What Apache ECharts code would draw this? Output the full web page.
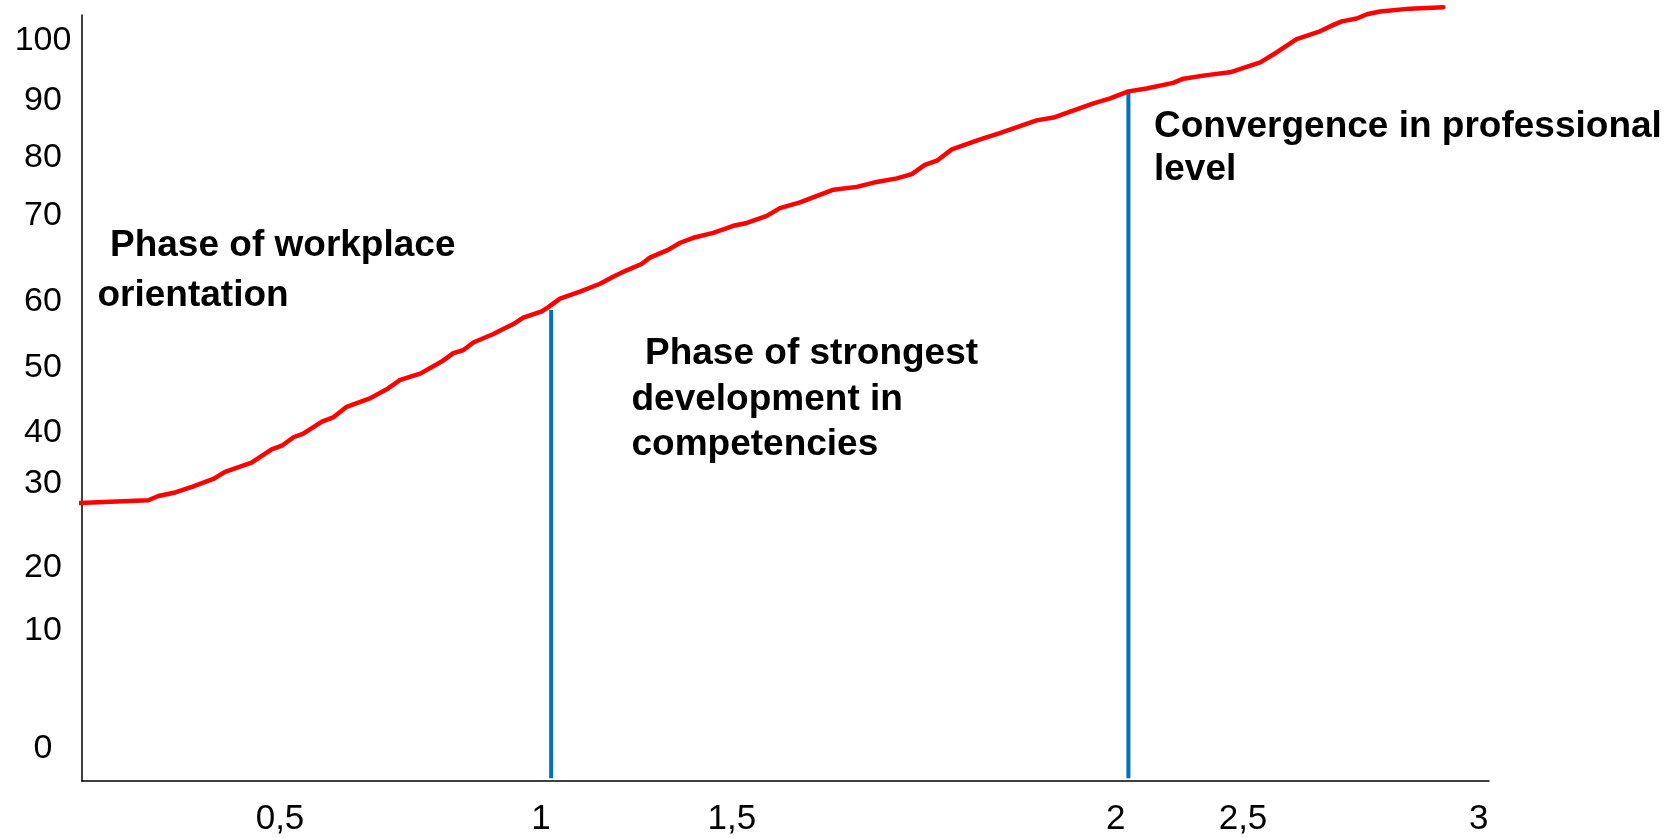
<!DOCTYPE html>
<html>
<head>
<meta charset="utf-8">
<script src="https://cdn.jsdelivr.net/npm/echarts@6/dist/echarts.min.js"></script>
<style>
html,body{margin:0;padding:0;background:#fff;}
#chart{width:1677px;height:838px;}
</style>
</head>
<body>
<div id="chart"></div>
<script>
// Curve (x in drawn-axis units, y in drawn-axis units)
const curveX = [-0.005, 0.142, 0.164, 0.200, 0.236, 0.282, 0.307, 0.364, 0.407, 0.429, 0.454, 0.475, 0.515, 0.539, 0.568, 0.618, 0.657, 0.683, 0.726, 0.772, 0.797, 0.818, 0.840, 0.883, 0.904, 0.926, 0.947, 0.987, 1.001, 1.026, 1.069, 1.112, 1.140, 1.169, 1.201, 1.219, 1.258, 1.284, 1.312, 1.355, 1.398, 1.427, 1.470, 1.498, 1.541, 1.613, 1.663, 1.706, 1.749, 1.781, 1.809, 1.835, 1.867, 1.928, 1.970, 2.049, 2.085, 2.171, 2.207, 2.246, 2.285, 2.342, 2.364, 2.414, 2.464, 2.529, 2.564, 2.607, 2.654, 2.686, 2.704, 2.736, 2.758, 2.786, 2.850, 2.922];
const curveY = [34.3, 34.7, 35.3, 35.8, 36.6, 37.7, 38.7, 40.0, 41.9, 42.4, 43.6, 44.1, 45.8, 46.4, 47.9, 49.1, 50.5, 51.7, 52.6, 54.3, 55.5, 55.9, 57.0, 58.2, 58.9, 59.6, 60.5, 61.4, 62.0, 63.2, 64.2, 65.3, 66.3, 67.2, 68.1, 69.0, 70.1, 71.1, 71.8, 72.5, 73.5, 73.9, 74.9, 76.0, 76.8, 78.6, 79.0, 79.7, 80.2, 80.8, 82.1, 82.7, 84.3, 85.7, 86.6, 88.4, 88.8, 90.8, 91.5, 92.5, 92.9, 93.7, 94.3, 94.8, 95.2, 96.6, 98.0, 99.9, 100.9, 101.9, 102.4, 102.8, 103.4, 103.8, 104.2, 104.4];

// Phase divider lines
const phaseX = [1.007, 2.246];
const phaseTop = [61.6, 92.6];
const phaseBottom = -4.6;

// Tick labels as drawn (irregular spacing in the original)
const xTickPos = [0.425, 0.985, 1.395, 2.219, 2.492, 2.998];
const xTickLabels = ['0,5', '1', '1,5', '2', '2,5', '3'];
const yTickPos = [99.64, 91.19, 83.14, 74.94, 62.78, 53.45, 44.26, 37.05, 25.17, 16.26, -0.42];
const yTickLabels = ['100', '90', '80', '70', '60', '50', '40', '30', '20', '10', '0'];

// Phase texts
const phaseTexts = [
  ['Phase of workplace', 'orientation'],
  ['Phase of strongest', 'development in', 'competencies'],
  ['Convergence in professional', 'level']
];

function lookup(pos, labels, v) {
  for (let i = 0; i < pos.length; i++) if (Math.abs(pos[i] - v) < 1e-6) return labels[i];
  return '';
}

const FONT = "'Liberation Sans', Arial, sans-serif";
const chart = echarts.init(document.getElementById('chart'));

const textLayout = [
  [[110, 246], [97.5, 296]],
  [[645, 354], [631.5, 400], [631.5, 445]],
  [[1154, 127], [1154, 169.5]]
];
const graphics = [];
phaseTexts.forEach((lines, gi) => {
  lines.forEach((t, li) => {
    graphics.push({
      type: 'text',
      x: textLayout[gi][li][0],
      y: textLayout[gi][li][1],
      style: {
        text: t, fill: '#000', fontSize: 37, fontWeight: 'bold', fontFamily: FONT,
        align: 'left', verticalAlign: 'middle'
      }
    });
  });
});

const series = [{
  type: 'line',
  data: curveX.map((x, i) => [x, curveY[i]]),
  showSymbol: false,
  clip: false,
  lineStyle: { color: '#FF0000', width: 4.5, cap: 'round', join: 'round' },
  z: 3
}];
phaseX.forEach((x, i) => {
  series.push({
    type: 'line',
    data: [[x, phaseBottom], [x, phaseTop[i]]],
    showSymbol: false,
    clip: false,
    lineStyle: { color: '#0070C0', width: 4 },
    z: 2
  });
});

chart.setOption({
  animation: false,
  backgroundColor: '#fff',
  grid: { left: 82, right: 188, top: 15, bottom: 57, containLabel: false, outerBoundsMode: 'none' },
  xAxis: {
    type: 'value', min: 0, max: 3.02,
    axisLine: { show: true, onZero: false, lineStyle: { color: '#000', width: 1.5 } },
    axisTick: { show: false },
    splitLine: { show: false },
    axisLabel: {
      customValues: xTickPos,
      formatter: v => lookup(xTickPos, xTickLabels, v),
      fontSize: 35, color: '#000', fontFamily: FONT,
      margin: 38, verticalAlign: 'middle'
    }
  },
  yAxis: {
    type: 'value', min: -5, max: 103.3,
    axisLine: { show: true, onZero: false, lineStyle: { color: '#000', width: 1.5 } },
    axisTick: { show: false },
    splitLine: { show: false },
    axisLabel: {
      customValues: yTickPos,
      formatter: v => lookup(yTickPos, yTickLabels, v),
      fontSize: 34, color: '#000', fontFamily: FONT,
      margin: 39, align: 'center', verticalAlign: 'middle'
    }
  },
  series: series,
  graphic: graphics
});
</script>
</body>
</html>
